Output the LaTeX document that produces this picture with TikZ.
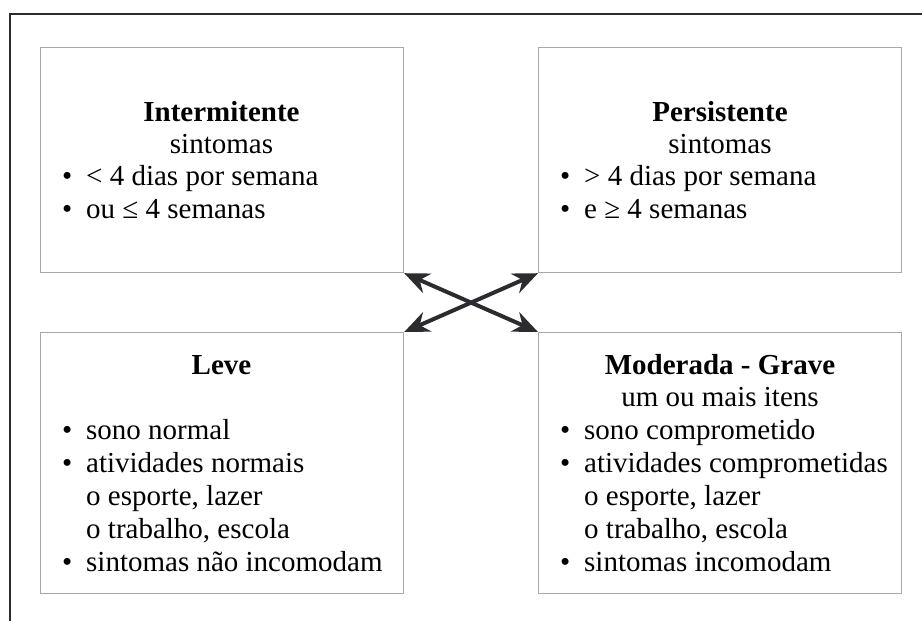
\documentclass[tikz,border=0pt]{standalone}
\usepackage{fontspec}
\setmainfont{Liberation Serif}
\usetikzlibrary{arrows.meta}
\definecolor{inkgray}{HTML}{2B2B30}
\definecolor{boxgray}{HTML}{A8A8A8}
\newcommand{\itemdot}{\makebox[24pt][l]{\textbullet}}
\newcommand{\itemgap}{\hspace*{24pt}}
\begin{document}
\begin{tikzpicture}
  [x=1pt,y=-1pt,
   every node/.style={inner sep=0pt,font=\fontsize{29}{33}\selectfont},
   box/.style={draw=boxgray,line width=1.2pt,minimum width=363pt,anchor=north west},
   head/.style={align=center,anchor=north,font=\fontsize{29}{32}\selectfont},
   body/.style={align=left,anchor=north west},
   link/.style={inkgray,line width=4pt,{Stealth[length=25pt,width=21pt]}-{Stealth[length=25pt,width=21pt]}}]
  \useasboundingbox (0,0) rectangle (922,621);
  \draw[inkgray,line width=2pt] (10,621) -- (10,14) -- (922,14);

  \node[box,minimum height=225pt] (intBox) at (40,47) {};
  \node[box,minimum height=225pt] (perBox) at (538,47) {};
  \node[box,minimum height=261pt] (levBox) at (40,332) {};
  \node[box,minimum height=261pt] (modBox) at (538,332) {};

  \node[head] (intHead) at (221.5,99) {\strut\textbf{Intermitente}\\sintomas};
  \node[body] (intBody) at (62,162) {\strut\itemdot < 4 dias por semana\\\itemdot ou ≤ 4 semanas};
  \node[head] (perHead) at (720,99) {\strut\textbf{Persistente}\\sintomas};
  \node[body] (perBody) at (560,162) {\strut\itemdot > 4 dias por semana\\\itemdot e ≥ 4 semanas};
  \node[head] (levHead) at (221.5,352) {\strut\textbf{Leve}};
  \node[body] (levBody) at (62,416) {\strut\itemdot sono normal\\\itemdot atividades normais\\\itemgap o esporte, lazer\\\itemgap o trabalho, escola\\\itemdot sintomas não incomodam};
  \node[head] (modHead) at (720,352) {\strut\textbf{Moderada - Grave}\\um ou mais itens};
  \node[body] (modBody) at (560,416) {\strut\itemdot sono comprometido\\\itemdot atividades comprometidas\\\itemgap o esporte, lazer\\\itemgap o trabalho, escola\\\itemdot sintomas incomodam};

  \foreach \from/\to in {intBox.south east/modBox.north west,perBox.south west/levBox.north east}
    \draw[link] (\from) -- (\to);

\end{tikzpicture}
\end{document}
